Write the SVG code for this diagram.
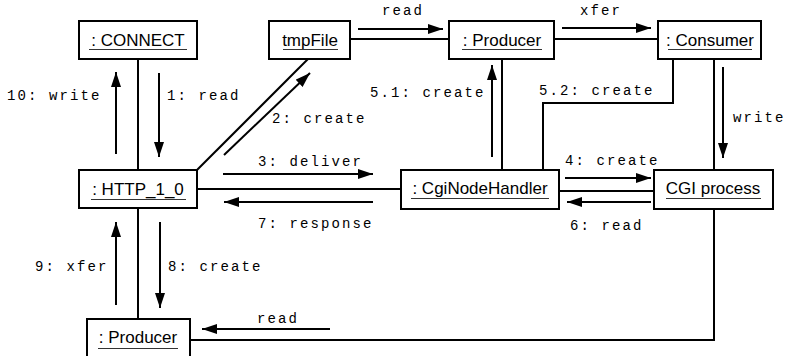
<svg xmlns="http://www.w3.org/2000/svg" width="786" height="356" viewBox="0 0 786 356">
<defs>
<marker id="ah" markerUnits="userSpaceOnUse" markerWidth="16" markerHeight="12" refX="15" refY="5" orient="auto">
<path d="M0,0 L15,5 L0,10 z" fill="#000"/>
</marker>
<style>
.box{fill:#fff;stroke:#000;stroke-width:2}
.nt{font-family:"Liberation Sans",Arial,sans-serif;font-size:17px;fill:#000;text-anchor:middle}
.ul{stroke:#333;stroke-width:1}
.ln{fill:none;stroke:#000;stroke-width:2}
.ar{fill:none;stroke:#000;stroke-width:2;marker-end:url(#ah)}
.lb{font-family:"Liberation Mono","Courier New",monospace;font-size:14px;letter-spacing:2.1px;fill:#000}
</style>
</defs>
<rect width="786" height="356" fill="#fff"/>
<g id="connectors">
<line class="ln" x1="138" y1="59" x2="138" y2="170"/>
<line class="ar" x1="116" y1="154" x2="116" y2="72"/>
<line class="ar" x1="159" y1="73" x2="159" y2="157"/>
<line class="ln" x1="197" y1="170" x2="308" y2="59"/>
<line class="ar" x1="224" y1="155" x2="310" y2="73"/>
<line class="ln" x1="350" y1="39" x2="449" y2="39"/>
<line class="ar" x1="358" y1="29" x2="443" y2="29"/>
<line class="ln" x1="554" y1="39" x2="658" y2="39"/>
<line class="ar" x1="562" y1="28" x2="651" y2="28"/>
<line class="ln" x1="502" y1="59" x2="502" y2="170"/>
<line class="ar" x1="492" y1="157" x2="492" y2="65"/>
<polyline class="ln" points="673,59 673,103 543,103 543,170"/>
<line class="ln" x1="714" y1="59" x2="714" y2="170"/>
<line class="ar" x1="723" y1="67" x2="723" y2="158"/>
<line class="ln" x1="197" y1="189" x2="401" y2="189"/>
<line class="ar" x1="223" y1="174" x2="373" y2="174"/>
<line class="ar" x1="373" y1="202" x2="224" y2="202"/>
<line class="ln" x1="559" y1="191" x2="654" y2="191"/>
<line class="ar" x1="565" y1="178" x2="651" y2="178"/>
<line class="ar" x1="651" y1="202" x2="567" y2="202"/>
<line class="ln" x1="138" y1="208" x2="138" y2="319"/>
<line class="ar" x1="116" y1="305" x2="116" y2="222"/>
<line class="ar" x1="160" y1="222" x2="160" y2="308"/>
<polyline class="ln" points="714,209 714,340 190,340"/>
<line class="ar" x1="330" y1="329" x2="202" y2="329"/>
</g>
<g id="labels">
<text class="lb" x="7" y="100">10: write</text>
<text class="lb" x="167" y="100">1: read</text>
<text class="lb" x="272" y="123">2: create</text>
<text class="lb" x="382" y="15">read</text>
<text class="lb" x="580" y="15">xfer</text>
<text class="lb" x="370" y="97">5.1: create</text>
<text class="lb" x="539" y="95">5.2: create</text>
<text class="lb" x="733" y="122">write</text>
<text class="lb" x="258" y="166">3: deliver</text>
<text class="lb" x="565" y="165">4: create</text>
<text class="lb" x="258" y="228">7: response</text>
<text class="lb" x="570" y="230">6: read</text>
<text class="lb" x="35" y="271">9: xfer</text>
<text class="lb" x="168" y="271">8: create</text>
<text class="lb" x="257" y="323">read</text>
</g>
<g id="connect">
<rect class="box" x="79" y="21" width="118" height="38"/>
<text class="nt" x="138" y="46">: CONNECT</text>
<line class="ul" x1="89" y1="49.5" x2="187" y2="49.5"/>
</g>
<g id="tmpfile">
<rect class="box" x="269" y="21" width="81" height="38"/>
<text class="nt" x="310" y="46">tmpFile</text>
<line class="ul" x1="283" y1="49.5" x2="338" y2="49.5"/>
</g>
<g id="producer1">
<rect class="box" x="449" y="21" width="105" height="38"/>
<text class="nt" x="502" y="46">: Producer</text>
<line class="ul" x1="462" y1="49.5" x2="542" y2="49.5"/>
</g>
<g id="consumer">
<rect class="box" x="658" y="21" width="103" height="38"/>
<text class="nt" x="710" y="46">: Consumer</text>
<line class="ul" x1="668" y1="49.5" x2="752" y2="49.5"/>
</g>
<g id="http">
<rect class="box" x="79" y="170" width="118" height="38"/>
<text class="nt" x="138" y="195">: HTTP_1_0</text>
<line class="ul" x1="91" y1="199.5" x2="186" y2="199.5"/>
</g>
<g id="cginodehandler">
<rect class="box" x="401" y="170" width="158" height="39"/>
<text class="nt" x="480" y="194">: CgiNodeHandler</text>
<line class="ul" x1="411" y1="198.5" x2="549" y2="198.5"/>
</g>
<g id="cgiprocess">
<rect class="box" x="654" y="170" width="119" height="39"/>
<text class="nt" x="713" y="194">CGI process</text>
<line class="ul" x1="666" y1="198.5" x2="761" y2="198.5"/>
</g>
<g id="producer2">
<rect class="box" x="87" y="319" width="103" height="40"/>
<text class="nt" x="138" y="343">: Producer</text>
<line class="ul" x1="98" y1="348.5" x2="178" y2="348.5"/>
</g>
</svg>
